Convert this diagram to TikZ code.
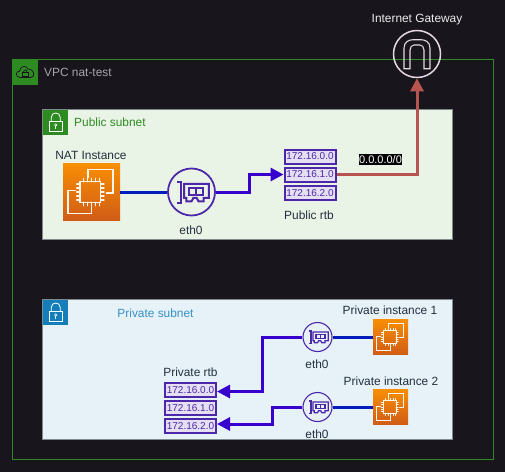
\documentclass[tikz,border=0pt]{standalone}
\usepackage{fontspec}
\setmainfont{Liberation Sans}
\usetikzlibrary{arrows.meta,calc}
\definecolor{bgdark}{HTML}{18151D}
\definecolor{vpcgreen}{HTML}{2E8B22}
\definecolor{pubfill}{HTML}{E9F3E6}
\definecolor{privfill}{HTML}{E6F2F8}
\definecolor{subborder}{HTML}{7F8A8C}
\definecolor{privblue}{HTML}{147EBA}
\definecolor{violet}{HTML}{4D27AA}
\definecolor{linkblue}{HTML}{001DBC}
\definecolor{linkviolet}{HTML}{3700CC}
\definecolor{linkred}{HTML}{B85450}
\definecolor{igwpale}{HTML}{E4D8E4}
\definecolor{txtdark}{HTML}{232F3E}
\definecolor{ectop}{HTML}{F78E04}
\definecolor{ecbot}{HTML}{D05C17}
\tikzset{
  lab/.style={font=\fontsize{11.9}{14}\selectfont,text=txtdark,inner sep=0pt},
  subnetbox/.style={draw=subborder,line width=1pt},
  iconsq/.style={minimum size=25pt,inner sep=0pt,outer sep=0pt,anchor=north west},
  rtbbox/.style={draw=violet,line width=2pt,fill=white!85!violet,text=violet,inner sep=0pt,
     minimum width=51pt,minimum height=14pt,font=\fontsize{10}{12}\selectfont},
  enibox/.style={circle,draw=violet,line width=#1,inner sep=0pt},
  ecbox/.style={inner sep=0pt,outer sep=0pt,top color=ectop,bottom color=ecbot},
  netlink/.style={line width=3pt,linkviolet,-{Triangle[length=13pt,width=13pt]}},
  hostlink/.style={line width=3pt,linkblue},
}
% EC2 icon: name, centre x, centre y, width
\newcommand{\ecicon}[4]{%
  \node[ecbox,minimum size=#4pt] (#1) at (#2,#3) {};
  \begin{scope}[shift={(#1.north west)},x=#4pt,y=-#4pt,color=white!92!orange,line width={#4*0.024pt},line cap=round]
    \draw (0.30,0.32) rectangle (0.66,0.68);
    \foreach \p in {0.36,0.43,0.50,0.57,0.64}{
      \draw (\p,0.26) -- (\p,0.32);
      \draw (\p,0.68) -- (\p,0.74);
      \draw (0.24,\p) -- (0.30,\p);
      \draw (0.66,\p) -- (0.72,\p);
    }
    \draw (0.44,0.25) -- (0.44,0.11) -- (0.88,0.11) -- (0.88,0.52) -- (0.76,0.52);
    \draw (0.22,0.47) -- (0.09,0.47) -- (0.09,0.88) -- (0.50,0.88) -- (0.50,0.76);
  \end{scope}}
% Network interface icon: name, centre x, centre y, radius
\newcommand{\eniicon}[4]{%
  \node[enibox={#4*0.075pt},minimum size={2*#4pt}] (#1) at (#2,#3) {};
  \begin{scope}[shift={(#1.center)},x=#4pt,y=-#4pt,color=violet,line width={#4*0.085pt}]
    \draw (-0.60,-0.41) -- (-0.45,-0.41) -- (-0.45,0.46) -- (-0.60,0.46);
    \draw (-0.31,-0.35) -- (0.74,-0.35) -- (0.74,0.25) -- (0.52,0.25) -- (0.52,0.40) -- (0.30,0.40)
       -- (0.22,0.25) -- (0.08,0.25) -- (0.00,0.40) -- (-0.22,0.40) -- (-0.22,0.25) -- (-0.31,0.25) -- cycle;
    \draw (-0.11,-0.17) rectangle (0.51,0.12);
    \draw (0.20,-0.17) -- (0.20,0.12);
  \end{scope}}
% Lock icon on a coloured square: name, x, y, colour
\newcommand{\lockicon}[4]{%
  \node[iconsq,fill=#4] (#1) at (#2,#3) {};
  \begin{scope}[shift={(#1.north west)},x=25pt,y=-25pt,color=white,line width=0.8pt]
    \draw (0.24,0.44) rectangle (0.78,0.84);
    \draw (0.33,0.44) -- (0.33,0.30) .. controls (0.33,0.06) and (0.69,0.06) .. (0.69,0.30) -- (0.69,0.44);
    \draw[line width=0.6pt] (0.51,0.60) circle[radius=0.05];
    \draw[line width=0.6pt] (0.51,0.65) -- (0.51,0.74);
  \end{scope}}
\begin{document}
\begin{tikzpicture}[x=1pt,y=-1pt]
\useasboundingbox (0,0) rectangle (505,472);
\fill[bgdark] (0,0) rectangle (505,472);
% VPC
\node[draw=vpcgreen,line width=1pt,minimum width=480.5pt,minimum height=400pt,inner sep=0pt,outer sep=0pt] (vpc) at (252.75,259.5) {};
\node[iconsq,fill=vpcgreen] (vpcicon) at (12.5,59.5) {};
\begin{scope}[shift={(vpcicon.north west)},x=25pt,y=-25pt,color=bgdark,line width=0.7pt]
  \draw (0.30,0.72) .. controls (0.10,0.72) and (0.12,0.45) .. (0.28,0.47)
        .. controls (0.30,0.26) and (0.56,0.20) .. (0.62,0.38)
        .. controls (0.85,0.35) and (0.95,0.72) .. (0.72,0.72) -- cycle;
  \draw (0.40,0.52) rectangle (0.62,0.66);
  \draw (0.44,0.52) .. controls (0.44,0.38) and (0.58,0.38) .. (0.58,0.52);
\end{scope}
\node[anchor=west,lab,text=white!62!bgdark] (vpclab) at (44,72.5) {VPC nat-test};
% Subnets
\node[subnetbox,fill=pubfill,minimum width=410pt,minimum height=129.5pt,inner sep=0pt,outer sep=0pt] (pub) at (247.5,174.25) {};
\lockicon{publock}{43}{110}{vpcgreen}
\node[anchor=west,lab,text=vpcgreen] (publab) at (74,122.5) {Public subnet};
\node[subnetbox,fill=privfill,minimum width=410pt,minimum height=140pt,inner sep=0pt,outer sep=0pt] (priv) at (247.5,369.5) {};
\lockicon{privlock}{43}{300}{privblue}
\node[lab,text=privblue!85!white] (privlab) at (155.5,313) {Private subnet};
% Public side
\ecicon{nat}{91.5}{192}{57}
\node[lab] (natlab) at (91,155) {NAT Instance};
\eniicon{enipub}{191.5}{192}{23.5}
\node[lab] (enipublab) at (191,230) {eth0};
\node[rtbbox] (pa) at (310,156.5) {172.16.0.0};
\node[rtbbox] (pb) at (310,174.5) {172.16.1.0};
\node[rtbbox] (pc) at (310,193) {172.16.2.0};
\node[lab] (pubrtblab) at (309,215) {Public rtb};
\coordinate (pe1) at (249,192);
\coordinate (pe2) at (249,174.5);
\draw[hostlink] (nat.east) -- (enipub.west);
\draw[netlink] (enipub.east) -- (pe1) -- (pe2) -- (pb.west);
% Internet gateway
\node[circle,draw=igwpale,line width=1.5pt,minimum size=47pt,inner sep=0pt] (igw) at (417,54) {};
\begin{scope}[shift={(igw.center)},color=igwpale,line width=1.1pt]
  \draw (-13,14.7) -- (-13,-6) .. controls (-13,-12) and (-8,-14.3) .. (-4,-14.3) -- (4,-14.3)
        .. controls (8,-14.3) and (13,-12) .. (13,-6) -- (13,14.7) -- (7,14.7) -- (7,-4)
        .. controls (7,-7) and (5,-9) .. (3,-9) -- (-3,-9) .. controls (-5,-9) and (-7,-7) .. (-7,-4)
        -- (-7,14.7) -- cycle;
\end{scope}
\node[lab,text=white!92!bgdark] (igwlab) at (417,20) {Internet Gateway};
\coordinate (re) at (417,174.5);
\draw[line width=3pt,linkred,-{Triangle[length=13pt,width=13pt]}] (pb.east) -- (re) -- (igw.south);
\node[fill=black,text=white,font=\fontsize{11}{12}\selectfont,inner sep=0pt,minimum width=43pt,minimum height=11pt] (deflab) at (380.5,159.5) {0.0.0.0/0};
% Private side
\node[rtbbox] (qa) at (190.5,390) {172.16.0.0};
\node[rtbbox] (qb) at (190.5,408) {172.16.1.0};
\node[rtbbox] (qc) at (190.5,426) {172.16.2.0};
\node[lab] (privrtblab) at (190.5,372) {Private rtb};
\eniicon{ea}{317.5}{337}{14.5}
\eniicon{eb}{317.5}{407}{14.5}
\node[lab] (ealab) at (317,364) {eth0};
\node[lab] (eblab) at (317,434) {eth0};
\ecicon{ia}{390.5}{337}{35}
\ecicon{ib}{390.5}{407}{35}
\node[lab] (ialab) at (390,310) {Private instance 1};
\node[lab] (iblab) at (391,381) {Private instance 2};
\draw[hostlink] (ea.east) -- (ia.west);
\draw[hostlink] (eb.east) -- (ib.west);
\coordinate (qe1) at (262,337);
\coordinate (qe2) at (262,391.5);
\coordinate (qf1) at (272,407);
\coordinate (qf2) at (272,424);
\draw[netlink] (ea.west) -- (qe1) -- (qe2) -- (qe2 -| qa.east);
\draw[netlink] (eb.west) -- (qf1) -- (qf2) -- (qf2 -| qc.east);
\end{tikzpicture}
\end{document}
